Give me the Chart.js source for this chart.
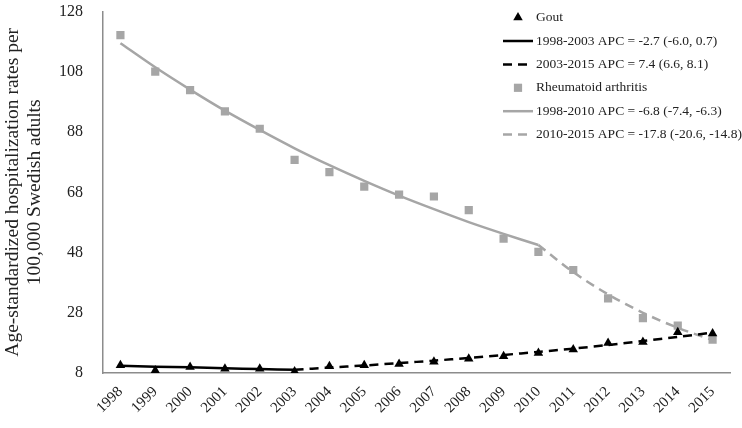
<!DOCTYPE html>
<html>
<head>
<meta charset="utf-8">
<script src="https://cdn.jsdelivr.net/npm/chart.js@4"></script>
<style>
  html, body { margin: 0; padding: 0; background: #fff; }
  #wrap { width: 742px; height: 428px; }
</style>
</head>
<body>
<div id="wrap"><canvas id="chart"></canvas></div>
<script>
const years = ['1998', '1999', '2000', '2001', '2002', '2003', '2004', '2005', '2006',
               '2007', '2008', '2009', '2010', '2011', '2012', '2013', '2014', '2015'];

// observed rates
const goutRates = [10.6, 8.8, 10.0, 9.4, 9.4, 8.5, 10.2, 10.6, 11.0,
                   11.7, 12.7, 13.6, 14.6, 15.8, 18.0, 18.3, 21.5, 21.1];
const raRates = [120.2, 108.1, 101.9, 94.9, 89.1, 78.8, 74.7, 69.9, 67.2,
                 66.6, 62.1, 52.6, 48.2, 42.2, 32.8, 26.2, 23.7, 19.1];

// joinpoint fitted segments
const goutFit1 = [10.4, 10.1, 9.9, 9.6, 9.3, 9.1, null, null, null,
                  null, null, null, null, null, null, null, null, null];
const goutFit2 = [null, null, null, null, null, 9.1, 9.8, 10.5, 11.3,
                  12.1, 13.0, 14.0, 15.0, 16.1, 17.3, 18.6, 20.0, 21.4];
const raFit1 = [117.5, 109.5, 102.1, 95.1, 88.7, 82.6, 77.0, 71.8, 66.9,
                62.4, 58.1, 54.2, 50.5, null, null, null, null, null];
const raFit2 = [null, null, null, null, null, null, null, null, null,
                null, null, null, 50.5, 41.5, 34.1, 28.0, 23.0, 18.9];

const yTicks = [8, 28, 48, 68, 88, 108, 128];

const legendLabels = ['Gout', '1998-2003 APC = -2.7 (-6.0, 0.7)', '2003-2015 APC = 7.4 (6.6, 8.1)',
                      'Rheumatoid arthritis', '1998-2010 APC = -6.8 (-7.4, -6.3)',
                      '2010-2015 APC = -17.8 (-20.6, -14.8)'];

const GREY = '#a6a6a6';
const FONT = "'Liberation Serif', serif";
const dash = [9, 6];

// legend drawn in the top right corner of the plot, like the original
const sideLegend = {
    id: 'sideLegend',
    afterDraw(chart) {
        const ctx = chart.ctx;
        const area = chart.chartArea;
        const x0 = area.right - 227;
        const y0 = area.top + 6;
        ctx.save();
        chart.data.datasets.forEach((ds, i) => {
            const y = y0 + i * 23.4;
            if (ds.showLine === false) {
                ctx.fillStyle = ds.pointBackgroundColor;
                ctx.strokeStyle = ds.pointBackgroundColor;
                Chart.helpers.drawPoint(ctx, { pointStyle: ds.pointStyle, radius: ds.pointRadius, borderWidth: 0 }, x0 + 15, y);
            } else {
                ctx.strokeStyle = ds.borderColor;
                ctx.lineWidth = ds.borderWidth;
                ctx.setLineDash(ds.borderDash || []);
                ctx.beginPath();
                ctx.moveTo(x0, y);
                ctx.lineTo(x0 + 30, y);
                ctx.stroke();
                ctx.setLineDash([]);
            }
            ctx.fillStyle = '#222';
            ctx.font = '13.5px ' + FONT;
            ctx.textBaseline = 'middle';
            ctx.textAlign = 'left';
            ctx.fillText(ds.label, x0 + 33, y);
        });
        ctx.restore();
    }
};

const markers = (label, data, style, color, r) => ({
    label: label, data: data, showLine: false, pointStyle: style,
    pointRadius: r, pointBackgroundColor: color, pointBorderWidth: 0,
    borderColor: color, order: 2
});
const fitLine = (label, data, color, dashed) => ({
    label: label, data: data, borderColor: color, borderWidth: 2.5,
    borderDash: dashed ? dash : [], pointRadius: 0, tension: 0.3, fill: false, order: 1
});

new Chart(document.getElementById('chart').getContext('2d'), {
    type: 'line',
    data: {
        labels: years,
        datasets: [
            markers(legendLabels[0], goutRates, 'triangle', '#000', 5.5),
            fitLine(legendLabels[1], goutFit1, '#000', false),
            fitLine(legendLabels[2], goutFit2, '#000', true),
            markers(legendLabels[3], raRates, 'rect', GREY, 5.8),
            fitLine(legendLabels[4], raFit1, GREY, false),
            fitLine(legendLabels[5], raFit2, GREY, true)
        ]
    },
    options: {
        responsive: true,
        maintainAspectRatio: false,
        animation: false,
        layout: { padding: { top: 0, right: 12, left: 0, bottom: 0 } },
        plugins: { legend: { display: false }, tooltip: { enabled: false } },
        scales: {
            x: {
                type: 'category',
                offset: true,
                grid: { display: true, drawOnChartArea: false, drawTicks: true, tickLength: 8, color: 'rgba(0,0,0,0)' },
                border: { color: '#8c8c8c', width: 1.5 },
                ticks: {
                    color: '#222', font: { family: FONT, size: 15 },
                    minRotation: 45, maxRotation: 45, padding: 2, autoSkip: false
                },
                afterFit(scale) { scale.height = 55; }
            },
            y: {
                min: 8, max: 128,
                afterBuildTicks(scale) { scale.ticks = yTicks.map(v => ({ value: v })); },
                grid: { display: true, drawOnChartArea: false, drawTicks: true, tickLength: 18, color: 'rgba(0,0,0,0)' },
                border: { color: '#8c8c8c', width: 1.5 },
                ticks: { color: '#222', font: { family: FONT, size: 16 }, padding: 2 },
                title: {
                    display: true,
                    text: ['Age-standardized hospitalization rates per', '100,000 Swedish adults'],
                    color: '#222', font: { family: FONT, size: 19.5, lineHeight: 1.12 }, padding: { top: 2, bottom: 0 }
                },
                afterFit(scale) { scale.width = 103; }
            }
        }
    },
    plugins: [sideLegend]
});
</script>
</body>
</html>
